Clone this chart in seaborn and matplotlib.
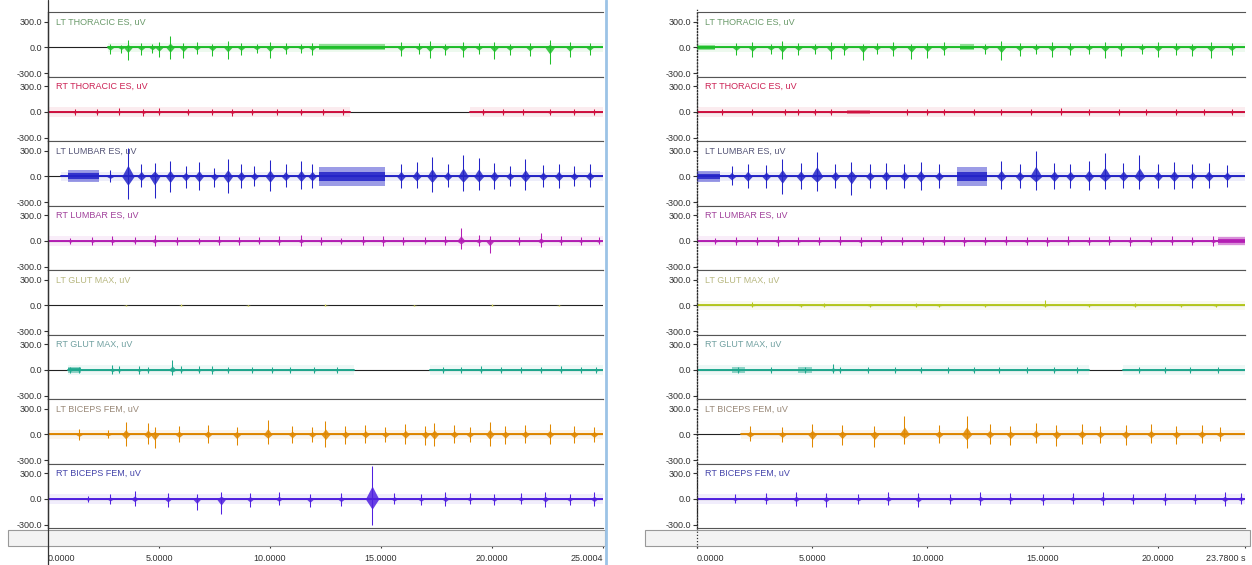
import numpy as np
import seaborn as sns
import matplotlib.pyplot as plt
from matplotlib.patches import Rectangle
from matplotlib.lines import Line2D

# ---------------- data (seconds / uV) ----------------
labels = ['LT THORACIC ES, uV', 'RT THORACIC ES, uV', 'LT LUMBAR ES, uV', 'RT LUMBAR ES, uV',
          'LT GLUT MAX, uV', 'RT GLUT MAX, uV', 'LT BICEPS FEM, uV', 'RT BICEPS FEM, uV']
left_end = 25.0004
right_end = 23.78
left_ticks = [0, 5, 10, 15, 20, 25.0004]
left_tick_labels = ['0.0000', '5.0000', '10.0000', '15.0000', '20.0000', '25.0004']
right_ticks = [0, 5, 10, 15, 20, 23.78]
right_tick_labels = ['0.0000', '5.0000', '10.0000', '15.0000', '20.0000', '23.7800 s']

# left recording: burst times, positive peaks, negative peaks, active spans, dense stretches
l1_t = [2.8, 3.3, 3.6, 4.2, 4.7, 5.0, 5.5, 6.1, 6.7, 7.4, 8.1, 8.7, 9.4, 10.0, 10.7, 11.4, 11.9,
        15.9, 16.7, 17.2, 17.9, 18.7, 19.4, 20.1, 20.8, 21.7, 22.6, 23.5, 24.4]
l1_up = [40, 30, 90, 50, 40, 60, 130, 50, 60, 40, 70, 50, 40, 60, 50, 40, 50,
         60, 50, 70, 40, 60, 50, 60, 40, 50, 90, 60, 50]
l1_dn = [80, 60, 150, 90, 70, 110, 140, 120, 80, 100, 130, 90, 70, 120, 80, 60, 90,
         100, 80, 120, 90, 110, 80, 130, 90, 100, 190, 110, 90]
l1_spans = [(2.7, 25.0)]
l1_dense = [(12.2, 15.2, 35)]

l2_t = [1.2, 2.2, 3.2, 4.3, 5.0, 6.3, 7.4, 8.3, 9.2, 10.3, 11.4, 12.4, 13.3, 19.6, 20.5, 21.4, 22.6, 23.7, 24.6]
l2_up = [40, 30, 45, 35, 50, 30, 40, 35, 30, 40, 35, 30, 40, 35, 30, 40, 35, 30, 40]
l2_dn = [35, 40, 30, 45, 35, 40, 30, 45, 35, 30, 40, 35, 30, 40, 35, 30, 40, 35, 30]
l2_spans = [(0, 13.6), (19.0, 25.0)]
l2_dense = []

l3_t = [2.8, 3.6, 4.2, 4.8, 5.5, 6.2, 6.8, 7.5, 8.1, 8.7, 9.3, 10.0, 10.7, 11.4, 11.9,
        15.9, 16.6, 17.3, 18.0, 18.7, 19.4, 20.1, 20.8, 21.5, 22.3, 23.0, 23.7, 24.4]
l3_up = [80, 330, 150, 160, 180, 120, 170, 100, 200, 150, 120, 190, 140, 180, 150,
         150, 170, 230, 140, 250, 220, 160, 120, 200, 130, 150, 120, 140]
l3_dn = [60, 260, 120, 250, 180, 130, 160, 120, 190, 140, 110, 170, 120, 150, 130,
         140, 130, 180, 120, 170, 160, 150, 110, 160, 120, 130, 110, 120]
l3_spans = [(0.6, 25.0)]
l3_dense = [(0.9, 2.3, 70), (12.2, 15.2, 110)]

l4_t = [1.0, 2.0, 2.9, 3.9, 4.8, 5.8, 6.8, 7.7, 8.6, 9.5, 10.4, 11.4, 12.3, 13.2, 14.2, 15.1,
        16.0, 17.0, 17.9, 18.6, 19.4, 19.9, 21.2, 22.2, 23.1, 24.0, 24.8]
l4_up = [40, 50, 60, 45, 70, 50, 40, 60, 50, 45, 60, 70, 50, 40, 55, 60,
         50, 45, 60, 150, 70, 60, 50, 90, 60, 50, 45]
l4_dn = [40, 45, 50, 40, 60, 45, 40, 50, 45, 40, 50, 60, 45, 40, 50, 55,
         45, 40, 50, 90, 60, 140, 45, 70, 50, 45, 40]
l4_spans = [(0, 25.0)]
l4_dense = []

l5_t = [3.5, 6.0, 9.0, 12.5, 16.5, 20.0, 23.0]
l5_up = [10, 12, 10, 12, 10, 12, 10]
l5_dn = [10, 10, 12, 10, 12, 10, 10]
l5_spans = []
l5_dense = []

l6_t = [1.0, 1.4, 2.9, 3.2, 4.1, 4.5, 5.6, 6.0, 6.8, 7.4, 8.1, 9.2, 10.1, 10.9, 12.0, 13.0,
        17.8, 18.6, 19.5, 20.4, 21.3, 22.2, 23.1, 24.0, 24.7]
l6_up = [40, 40, 60, 50, 50, 40, 120, 50, 45, 50, 40, 35, 40, 30, 40, 35,
         40, 35, 45, 40, 35, 40, 45, 35, 40]
l6_dn = [40, 35, 50, 40, 45, 35, 60, 40, 40, 45, 35, 30, 35, 30, 35, 30,
         35, 30, 40, 35, 30, 35, 40, 30, 35]
l6_spans = [(0.9, 13.8), (17.2, 25.0)]
l6_dense = [(0.9, 1.5, 35)]

l7_t = [1.4, 2.7, 3.5, 4.5, 4.8, 5.9, 7.2, 8.5, 9.9, 11.0, 11.9, 12.5, 13.4, 14.3, 15.2, 16.1,
        17.0, 17.4, 18.3, 19.0, 19.9, 20.6, 21.5, 22.6, 23.7, 24.6]
l7_up = [60, 50, 140, 130, 90, 100, 110, 90, 170, 100, 90, 160, 100, 110, 90, 120,
         100, 130, 110, 90, 150, 100, 110, 120, 100, 90]
l7_dn = [60, 40, 130, 110, 160, 90, 100, 120, 110, 100, 90, 150, 110, 100, 90, 110,
         120, 140, 100, 90, 140, 110, 100, 110, 100, 90]
l7_spans = [(0, 25.0)]
l7_dense = []

l8_t = [1.8, 2.8, 3.9, 5.4, 6.7, 7.8, 9.1, 10.4, 11.8, 13.2, 14.6, 15.6, 16.8, 17.9, 19.0,
        20.1, 21.3, 22.4, 23.5, 24.6]
l8_up = [40, 60, 90, 70, 60, 80, 70, 80, 60, 70, 380, 70, 60, 80, 70, 60, 70, 80, 60, 80]
l8_dn = [40, 60, 80, 90, 130, 180, 90, 70, 100, 80, 300, 60, 70, 80, 60, 70, 60, 90, 70, 80]
l8_spans = [(0, 25.0)]
l8_dense = []

# right recording
r1_t = [1.7, 2.4, 3.2, 3.7, 4.4, 5.1, 5.8, 6.4, 7.2, 7.8, 8.5, 9.3, 10.0, 10.7, 12.5, 13.2,
        14.0, 14.7, 15.4, 16.2, 17.0, 17.7, 18.4, 19.3, 20.0, 20.8, 21.5, 22.3, 23.2]
r1_up = [50, 60, 40, 70, 50, 40, 60, 50, 40, 50, 60, 40, 50, 60, 40, 70,
         50, 40, 60, 50, 40, 60, 50, 40, 60, 50, 40, 60, 50]
r1_dn = [90, 110, 80, 140, 90, 80, 130, 90, 150, 80, 100, 140, 120, 90, 80, 150,
         100, 80, 110, 90, 80, 120, 100, 80, 110, 90, 100, 120, 90]
r1_spans = [(0, 23.78)]
r1_dense = [(0, 0.8, 30), (11.4, 12.0, 35)]

r2_t = [1.1, 2.4, 3.8, 4.4, 5.1, 5.8, 9.1, 10.0, 10.7, 12.0, 13.2, 14.5, 15.8, 17.0, 18.3,
        19.5, 20.8, 22.0, 23.2]
r2_up = [30, 35, 30, 40, 35, 30, 35, 30, 35, 30, 40, 30, 50, 35, 30, 35, 30, 35, 30]
r2_dn = [30, 30, 35, 30, 40, 35, 30, 35, 30, 35, 30, 35, 30, 30, 35, 30, 35, 30, 35]
r2_spans = [(0, 23.78)]
r2_dense = [(6.5, 7.5, 25)]

r3_t = [1.5, 2.2, 3.0, 3.7, 4.5, 5.2, 6.0, 6.7, 7.5, 8.2, 9.0, 9.7, 10.5, 13.2, 14.0, 14.7,
        15.5, 16.2, 17.0, 17.7, 18.5, 19.2, 20.0, 20.7, 21.5, 22.2, 23.0]
r3_up = [120, 150, 130, 200, 160, 290, 150, 170, 140, 160, 150, 170, 140, 180, 150, 300,
         160, 150, 180, 270, 160, 250, 150, 170, 140, 160, 130]
r3_dn = [100, 140, 130, 200, 150, 170, 140, 220, 130, 150, 140, 160, 130, 150, 140, 160,
         150, 140, 160, 150, 140, 150, 140, 150, 130, 140, 120]
r3_spans = [(0, 23.78)]
r3_dense = [(0, 1.0, 60), (11.3, 12.6, 110)]

r4_t = [0.8, 1.7, 2.6, 3.5, 4.4, 5.3, 6.2, 7.1, 8.0, 8.9, 9.8, 10.7, 11.6, 12.5, 13.4, 14.3,
        15.2, 16.1, 17.0, 17.9, 18.8, 19.7, 20.6, 21.5, 22.4]
r4_up = [40, 50, 45, 60, 50, 45, 55, 50, 60, 45, 50, 55, 45, 50, 60, 45,
         50, 55, 45, 60, 50, 45, 55, 50, 60]
r4_dn = [40, 45, 50, 55, 45, 50, 45, 55, 50, 45, 50, 45, 55, 50, 45, 50,
         55, 45, 50, 45, 55, 50, 45, 50, 55]
r4_spans = [(0, 23.78)]
r4_dense = [(22.6, 23.78, 45)]

r5_t = [2.4, 4.5, 5.5, 7.5, 9.5, 10.5, 12.5, 15.1, 17.0, 19.0, 21.0, 22.5]
r5_up = [40, 20, 25, 20, 25, 20, 20, 60, 20, 25, 20, 20]
r5_dn = [15, 20, 15, 20, 15, 20, 15, 20, 15, 20, 15, 20]
r5_spans = [(0, 23.78)]
r5_dense = []

r6_t = [1.8, 3.2, 4.7, 5.9, 6.2, 7.4, 8.6, 9.7, 10.9, 12.0, 13.1, 14.3, 15.5, 16.5, 19.2,
        20.3, 21.4, 22.6]
r6_up = [40, 30, 35, 70, 40, 30, 35, 30, 35, 30, 35, 30, 40, 30, 35, 30, 35, 30]
r6_dn = [35, 30, 30, 40, 35, 30, 30, 35, 30, 35, 30, 30, 35, 30, 30, 35, 30, 30]
r6_spans = [(0, 17.0), (18.5, 23.78)]
r6_dense = [(1.5, 2.1, 30), (4.4, 5.0, 30)]

r7_t = [2.3, 3.7, 5.0, 6.3, 7.7, 9.0, 10.5, 11.7, 12.7, 13.6, 14.7, 15.6, 16.7, 17.5, 18.6,
        19.7, 20.8, 21.9, 22.7]
r7_up = [100, 90, 120, 110, 100, 220, 110, 220, 120, 100, 130, 110, 120, 100, 110, 120, 100, 110, 90]
r7_dn = [80, 90, 150, 120, 150, 110, 100, 160, 110, 120, 100, 130, 110, 100, 120, 100, 110, 100, 80]
r7_spans = [(1.9, 23.78)]
r7_dense = []

r8_t = [1.65, 3.0, 4.3, 5.6, 7.0, 8.3, 9.6, 11.0, 12.3, 13.6, 15.0, 16.3, 17.6, 18.9, 20.3,
        21.6, 22.9, 23.6]
r8_up = [60, 70, 80, 70, 60, 80, 70, 60, 80, 70, 60, 70, 80, 60, 70, 60, 80, 70]
r8_dn = [50, 60, 80, 90, 60, 70, 90, 60, 70, 60, 70, 60, 70, 60, 70, 60, 80, 60]
r8_spans = [(0, 23.78)]
r8_dense = []

# ---------------- styling ----------------
left_colors = ['#1fbf2a', '#d0103f', '#2424c8', '#b41eb4', '#d4d45a', '#1fa88e', '#e08800', '#5020e0']
right_colors = ['#1fbf2a', '#d0103f', '#2424c8', '#b41eb4', '#b5c81e', '#1fa88e', '#e08800', '#5020e0']
label_colors = ['#6a9a6a', '#cc2255', '#555577', '#a0409a', '#b8b880', '#70a0a0', '#998877', '#4444aa']

sns.set_theme(style='white')
plt.rcParams['font.family'] = ['Liberation Sans', 'DejaVu Sans']

W, H = 1252, 565
fig = plt.figure(figsize=(W / 100, H / 100), dpi=100)


def px_box(x0, x1, y0, y1):
    return [x0 / W, 1 - y1 / H, (x1 - x0) / W, (y1 - y0) / H]


def draw_channel(ax, end, color, times, ups, dns, spans, dense):
    ax.axhline(0, color='#222222', lw=0.8, zorder=1)
    for s, e in spans:
        ax.fill_between([s, e], -55, 55, color=color, alpha=0.08, lw=0)
        sns.lineplot(x=[s, e], y=[0, 0], ax=ax, color=color, lw=1.4, zorder=2)
    for s, e, a in dense:
        ax.fill_between([s, e], -a, a, color=color, alpha=0.45, lw=0, zorder=3)
        ax.fill_between([s, e], -a * 0.5, a * 0.5, color=color, alpha=0.85, lw=0, zorder=3)
    for t, u, d in zip(times, ups, dns):
        w = 0.24 * (1 + max(u, d) / 250)
        ax.fill_between([t - w / 2, t, t + w / 2], [0, u * 0.4, 0], [0, -d * 0.4, 0],
                        color=color, alpha=0.85, lw=0, zorder=3)
    ax.vlines(times, [-d for d in dns], ups, color=color, lw=0.75, zorder=3)
    ax.set_xlim(0, end)
    ax.set_ylim(-340, 415)


def draw_side(x0, x1, end, colors, channels, ticks, tick_labels, dotted):
    top, bottom = 12, 528
    h = (bottom - top) / len(channels)
    for i, ch in enumerate(channels):
        ax = fig.add_axes(px_box(x0, x1, top + i * h, top + (i + 1) * h))
        draw_channel(ax, end, colors[i], *ch)
        ax.set_yticks([-300, 0, 300])
        ax.set_yticklabels(['-300.0', '0.0', '300.0'])
        ax.set_xticks([])
        ax.tick_params(axis='y', left=True, length=3, width=0.8, pad=1,
                       labelsize=6.5, labelcolor='#333333', color='#333333')
        for side in ['top', 'bottom']:
            ax.spines[side].set_color('#555555')
            ax.spines[side].set_linewidth(0.8)
        ax.spines['right'].set_visible(False)
        ax.spines['left'].set_color('#222222')
        ax.spines['left'].set_linewidth(0.9)
        if dotted:
            ax.spines['left'].set_linestyle((0, (1, 1.5)))
        ax.annotate(labels[i], xy=(0, 300), xycoords=('axes fraction', 'data'),
                    xytext=(6, 0), textcoords='offset points', fontsize=6.5,
                    color=label_colors[i], va='center')
    # time ruler under the panels
    rax = fig.add_axes(px_box(x0, x1, 547, 548))
    rax.set_xlim(0, end)
    rax.set_yticks([])
    rax.set_xticks(ticks)
    rax.set_xticklabels(tick_labels)
    for s in rax.spines.values():
        s.set_visible(False)
    rax.tick_params(axis='x', direction='in', bottom=True, length=5, width=0.8,
                    labelsize=6.5, pad=4, labelcolor='#333333', color='#333333')
    tls = rax.get_xticklabels()
    tls[0].set_ha('left')
    tls[-1].set_ha('right')


left_channels = [(l1_t, l1_up, l1_dn, l1_spans, l1_dense), (l2_t, l2_up, l2_dn, l2_spans, l2_dense),
                 (l3_t, l3_up, l3_dn, l3_spans, l3_dense), (l4_t, l4_up, l4_dn, l4_spans, l4_dense),
                 (l5_t, l5_up, l5_dn, l5_spans, l5_dense), (l6_t, l6_up, l6_dn, l6_spans, l6_dense),
                 (l7_t, l7_up, l7_dn, l7_spans, l7_dense), (l8_t, l8_up, l8_dn, l8_spans, l8_dense)]
right_channels = [(r1_t, r1_up, r1_dn, r1_spans, r1_dense), (r2_t, r2_up, r2_dn, r2_spans, r2_dense),
                  (r3_t, r3_up, r3_dn, r3_spans, r3_dense), (r4_t, r4_up, r4_dn, r4_spans, r4_dense),
                  (r5_t, r5_up, r5_dn, r5_spans, r5_dense), (r6_t, r6_up, r6_dn, r6_spans, r6_dense),
                  (r7_t, r7_up, r7_dn, r7_spans, r7_dense), (r8_t, r8_up, r8_dn, r8_spans, r8_dense)]

# gray bands between panels and time ruler
fig.patches.append(Rectangle((8 / W, 1 - 546 / H), (605 - 8) / W, 16 / H, transform=fig.transFigure,
                             facecolor='#f3f3f3', edgecolor='#999999', lw=0.8, zorder=0))
fig.patches.append(Rectangle((645 / W, 1 - 546 / H), (1250 - 645) / W, 16 / H, transform=fig.transFigure,
                             facecolor='#f3f3f3', edgecolor='#999999', lw=0.8, zorder=0))

draw_side(48, 603, left_end, left_colors, left_channels, left_ticks, left_tick_labels, False)
draw_side(697, 1245, right_end, right_colors, right_channels, right_ticks, right_tick_labels, True)

# window frame lines
fig.add_artist(Line2D([48 / W, 48 / W], [0, 1], transform=fig.transFigure, color='#333333', lw=0.9))
fig.add_artist(Line2D([606 / W, 606 / W], [0, 1], transform=fig.transFigure, color='#9cc3e6', lw=2))
fig.add_artist(Line2D([697 / W, 697 / W], [1 - 548 / H, 1 - 8 / H], transform=fig.transFigure,
                      color='#333333', lw=0.9, ls=(0, (1, 1.5))))

fig.savefig('out.png', dpi=100, facecolor='white')
